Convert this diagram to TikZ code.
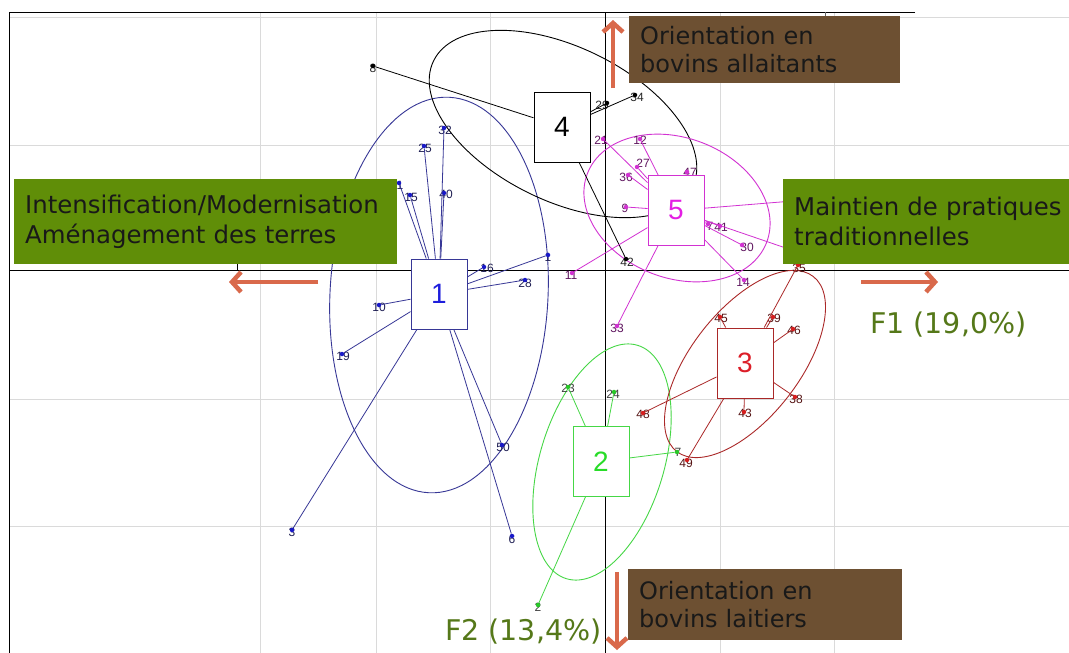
\documentclass[tikz,border=0pt]{standalone}
\usepackage{fontspec}
\setmainfont{Liberation Sans}
\newfontfamily\tagfont{DejaVu Sans}
\usetikzlibrary{arrows.meta}

\definecolor{gridgray}{RGB}{218,218,218}
\definecolor{gblue}{RGB}{55,55,150}
\definecolor{gbluept}{RGB}{25,25,200}
\definecolor{gbluetxt}{RGB}{30,30,220}
\definecolor{gmag}{RGB}{210,50,210}
\definecolor{gmagtxt}{RGB}{228,30,228}
\definecolor{gred}{RGB}{170,40,40}
\definecolor{gredpt}{RGB}{215,30,30}
\definecolor{gredtxt}{RGB}{220,30,40}
\definecolor{ggreen}{RGB}{70,215,70}
\definecolor{ggreenpt}{RGB}{40,200,40}
\definecolor{ggreentxt}{RGB}{40,220,40}
\definecolor{tagolive}{RGB}{96,142,8}
\definecolor{tagbrown}{RGB}{109,80,50}
\definecolor{arrowred}{RGB}{217,105,75}
\definecolor{axistxt}{RGB}{85,120,25}

\tikzset{
  grid line/.style={gridgray, line width=1pt},
  axis line/.style={black, line width=0.9pt},
  dot/.style={circle, inner sep=0pt, minimum size=4.5pt, draw=none},
  numlab/.style={font=\fontsize{12}{12}\selectfont, inner sep=0pt, text=\labcol},
  classbox/.style={draw, fill=white, minimum width=56pt, minimum height=70pt,
    inner sep=0pt, line width=0.9pt, font=\fontsize{28}{30}\selectfont},
  tagbox/.style={anchor=north west, inner xsep=11pt, inner ysep=0pt, align=left,
    text=black!90},
  taggreen/.style={tagbox, fill=tagolive, minimum height=85pt,
    font=\tagfont\fontsize{24.4}{30}\selectfont},
  tagdark/.style={tagbox, fill=tagbrown, font=\tagfont\fontsize{24}{28}\selectfont},
  bigarrow/.style={arrowred, line width=4.5pt, -{Straight Barb[length=9pt,width=20pt]}},
  axislab/.style={font=\tagfont\fontsize{28.5}{30}\selectfont, text=axistxt, inner sep=0pt},
  link/.style={line width=0.8pt},
  class ellipse/.style={line width=0.9pt},
}

% one observation: name, x, y, label dx, label dy, label
\newcommand\obs[6]{%
  \node[numlab] (#1-t) at ({#2+#4},{#3+#5}) {#6};
  \node[dot, fill=\dotcol] (#1) at (#2,#3) {};
}

\begin{document}
\begin{tikzpicture}[x=1pt,y=-1pt]
\useasboundingbox (0,0) rectangle (1069,653);
\fill[white] (0,0) rectangle (1069,653);

% grid
\foreach \gx in {260,376,490,720,834}
  \draw[grid line] (\gx,12) -- (\gx,653);
\foreach \gy in {17,145,399,526}
  \draw[grid line] (9,\gy) -- (1069,\gy);

% frame and axes
\draw[axis line] (915,12) -- (9,12) -- (9,653);
\draw[axis line] (605,12) -- (605,653);
\draw[axis line] (9,270) -- (1069,270);
\draw[black, line width=0.7pt] (237,263) -- (237,270);
\draw[black!60, line width=0.7pt] (825,12) -- (825,17);

% class ellipses
\draw[class ellipse, gblue] [rotate around={-3:(439,295)}] (439,295) ellipse [x radius=109pt, y radius=198pt];
\draw[class ellipse, ggreen] [rotate around={-17:(602,462)}] (602,462) ellipse [x radius=62pt, y radius=122pt];
\draw[class ellipse, gred] [rotate around={52:(745,364)}] (745,364) ellipse [x radius=111pt, y radius=54pt];
\draw[class ellipse, black] [rotate around={-26:(563,124)}] (563,124) ellipse [x radius=144pt, y radius=77pt];
\draw[class ellipse, gmag] [rotate around={-21:(677,208)}] (677,208) ellipse [x radius=96pt, y radius=70pt];

% observations, class 1
\def\dotcol{gbluept}\def\labcol{gblue!55!black}
\obs{p1a}{399}{183}{1}{2}{1}
\obs{p15}{410}{195}{1}{2}{15}
\obs{p25}{424}{146}{1}{2}{25}
\obs{p32}{444}{128}{1}{2}{32}
\obs{p40}{444}{193}{2}{1}{40}
\obs{p16}{484}{267}{3}{1}{16}
\obs{p1b}{548}{255}{0}{2}{1}
\obs{p28}{525}{280}{0}{3}{28}
\obs{p10}{379}{305}{0}{2}{10}
\obs{p19}{342}{354}{1}{2}{19}
\obs{p3}{292}{530}{0}{2}{3}
\obs{p50}{502}{445}{1}{2}{50}
\obs{p6}{512}{536}{0}{3}{6}

% class 4
\def\dotcol{black}\def\labcol{black!85}
\obs{p8}{373}{66}{0}{2}{8}
\obs{p29}{607}{103}{-5}{2}{29}
\obs{p34}{635}{95}{2}{2}{34}
\obs{p42}{626}{259}{1}{3}{42}

% class 5
\def\dotcol{gmag}\def\labcol{gmag!45!black}
\obs{p21}{603}{139}{-2}{1}{21}
\obs{p12}{640}{139}{0}{1}{12}
\obs{p27}{637}{167}{6}{-4}{27}
\obs{p36}{628}{175}{-2}{2}{36}
\obs{p9}{626}{207}{-1}{1}{9}
\obs{p47}{687}{172}{3}{0}{47}
\obs{p4}{708}{224}{2}{2}{7}
\obs{p41}{720}{226}{1}{1}{41}
\obs{p30}{742}{245}{5}{2}{30}
\obs{p14}{744}{280}{-1}{2}{14}
\obs{p11}{572}{273}{-1}{2}{11}
\obs{p33}{617}{326}{0}{2}{33}
\coordinate (h1) at (830,198);
\coordinate (h2) at (812,257);

% class 3
\def\dotcol{gredpt}\def\labcol{gred!50!black}
\obs{p35}{798}{265}{1}{3}{35}
\obs{p39}{773}{317}{1}{1}{39}
\obs{p45}{720}{317}{1}{1}{45}
\obs{p46}{793}{329}{1}{1}{46}
\obs{p38}{795}{397}{1}{2}{38}
\obs{p43}{744}{412}{1}{1}{43}
\obs{p48}{643}{413}{0}{1}{48}
\obs{p49}{687}{460}{-1}{3}{49}

% class 2
\def\dotcol{ggreenpt}\def\labcol{black!75}
\obs{p23}{568}{387}{0}{1}{23}
\obs{p24}{614}{392}{-1}{2}{24}
\obs{p7}{677}{452}{1}{0}{7}
\obs{p2}{538}{605}{0}{2}{2}

% class boxes
\node[classbox, draw=gblue, text=gbluetxt] (b1) at (439,294) {1};
\node[classbox, draw=black, text=black] (b4) at (562,127) {4};
\node[classbox, draw=gmag, text=gmagtxt] (b5) at (676,210.5) {5};
\node[classbox, draw=gred, text=gredtxt] (b3) at (745,363) {3};
\node[classbox, draw=ggreen, text=ggreentxt] (b2) at (601,461.5) {2};

% links from each class to its members
\foreach \p in {p1a,p15,p25,p32,p40,p16,p1b,p28,p10,p19,p3,p50,p6}
  \draw[link, gblue] (b1) -- (\p);
\foreach \p in {p8,p29,p34,p42}
  \draw[link, black] (b4) -- (\p);
\foreach \p in {p21,p12,p27,p36,p9,p47,p4,p41,p30,p14,p11,p33,h1,h2}
  \draw[link, gmag] (b5) -- (\p);
\foreach \p in {p35,p39,p45,p46,p38,p43,p48,p49}
  \draw[link, gred] (b3) -- (\p);
\foreach \p in {p23,p24,p7,p2}
  \draw[link, ggreen] (b2) -- (\p);

% interpretation tags
\node[taggreen, text width=361pt] (tagL) at (14,179)
  {Intensification/Modernisation\\Aménagement des terres};
\node[taggreen, text width=270pt] (tagR) at (783,179)
  {Maintien de pratiques\\traditionnelles};
\node[tagdark, text width=249pt, minimum height=67pt] (tagT) at (629,16)
  {Orientation en\\bovins allaitants};
\node[tagdark, text width=252pt, minimum height=71pt] (tagB) at (628,569)
  {Orientation en\\bovins laitiers};

% direction arrows
\coordinate (upS) at (613,88);   \coordinate (upE) at (613,20);
\coordinate (dnS) at (617,572);  \coordinate (dnE) at (617,650);
\coordinate (lfS) at (318,282);  \coordinate (lfE) at (229,282);
\coordinate (rtS) at (861,282);  \coordinate (rtE) at (938,282);
\draw[bigarrow] (upS) -- (upE);
\draw[bigarrow] (dnS) -- (dnE);
\draw[bigarrow] (lfS) -- (lfE);
\draw[bigarrow] (rtS) -- (rtE);

% axis names
\node[axislab, anchor=base west] (f1) at (870,333) {F1 (19,0\%)};
\node[axislab, anchor=base west] (f2) at (445,640) {F2 (13,4\%)};
\end{tikzpicture}
\end{document}
